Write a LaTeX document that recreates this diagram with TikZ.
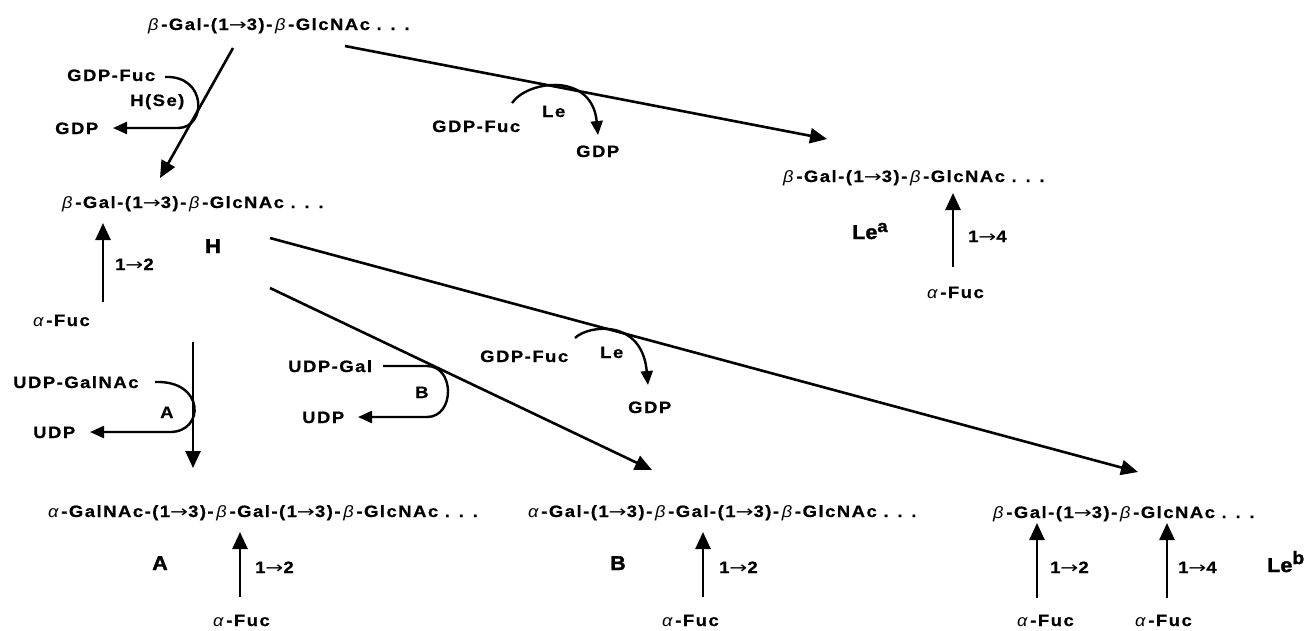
\documentclass[tikz,border=0pt]{standalone}
\usepackage{fontspec}
\setmainfont[LetterSpace=9,FakeStretch=1.12,FakeBold=0.6]{Liberation Sans}
\newfontfamily\heavy[FakeBold=1.6,FakeStretch=1.08]{Liberation Sans}
\newfontfamily\grfont[FakeStretch=1.1]{Liberation Sans}
\newfontfamily\arrfont[FakeStretch=1.3]{DejaVu Sans}
\usetikzlibrary{arrows.meta}
\newcommand{\myb}{{\grfont\mdseries\itshape β}}
\newcommand{\mya}{{\grfont\mdseries\itshape α}}
\newcommand{\myarr}{{\arrfont\mdseries →}}
\tikzset{
  lbl/.style={anchor=base west, inner sep=0pt, font=\bfseries\fontsize{16.5}{18}\selectfont},
  big/.style={anchor=base west, inner sep=0pt, font=\heavy\bfseries\fontsize{20}{22}\selectfont},
  conn/.style={line width=2.6pt, -{Triangle[length=17pt,width=15pt]}},
  curv/.style={line width=2.4pt, -{Triangle[length=14pt,width=12pt]}},
}
\begin{document}
\begin{tikzpicture}[x=1pt,y=-1pt]
\useasboundingbox (0,0) rectangle (1314,630);
\fill[white] (0,0) rectangle (1314,630);
% texts
\node[lbl] (top) at (148,30) {\myb\,-Gal-(1\myarr3)-\,\myb\,-GlcNAc . . .};
\node[lbl] (gdpfucL) at (67,81) {GDP-Fuc};
\node[lbl] (hse) at (130,106) {H(Se)};
\node[lbl] (gdpL) at (55,134) {GDP};
\node[lbl] (hprod) at (62,208) {\myb\,-Gal-(1\myarr3)-\,\myb\,-GlcNAc . . .};
\node[lbl] (h12) at (115,270) {1\myarr2};
\node[big] (H) at (205,253) {H};
\node[lbl] (hfuc) at (33,326) {\mya\,-Fuc};
\node[lbl] (udpgalnac) at (13,388) {UDP-GalNAc};
\node[lbl] (Aenz) at (160,418) {A};
\node[lbl] (udpA) at (33,438) {UDP};
\node[lbl] (udpgal) at (288,372) {UDP-Gal};
\node[lbl] (Benz) at (415,398) {B};
\node[lbl] (udpB) at (302,423) {UDP};
\node[lbl] (gdpfucM) at (480,362) {GDP-Fuc};
\node[lbl] (leM) at (600,358) {Le};
\node[lbl] (gdpM) at (628,413) {GDP};
\node[lbl] (gdpfucU) at (432,132) {GDP-Fuc};
\node[lbl] (leU) at (542,117) {Le};
\node[lbl] (gdpU) at (576,157) {GDP};
\node[lbl] (leaprod) at (783,182) {\myb\,-Gal-(1\myarr3)-\,\myb\,-GlcNAc . . .};
\node[lbl] (le14) at (968,242) {1\myarr4};
\node[big] (Lea) at (852,239) {Le\raisebox{7pt}{\fontsize{17}{18}\selectfont a}};
\node[lbl] (leafuc) at (927,298) {\mya\,-Fuc};
\node[lbl] (aprod) at (48,517) {\mya\,-GalNAc-(1\myarr3)-\,\myb\,-Gal-(1\myarr3)-\,\myb\,-GlcNAc . . .};
\node[big] (Abig) at (152,570) {A};
\node[lbl] (a12) at (255,573) {1\myarr2};
\node[lbl] (afuc) at (213,626) {\mya\,-Fuc};
\node[lbl] (bprod) at (528,517) {\mya\,-Gal-(1\myarr3)-\,\myb\,-Gal-(1\myarr3)-\,\myb\,-GlcNAc . . .};
\node[big] (Bbig) at (610,570) {B};
\node[lbl] (b12) at (719,573) {1\myarr2};
\node[lbl] (bfuc) at (662,626) {\mya\,-Fuc};
\node[lbl] (lebprod) at (993,518) {\myb\,-Gal-(1\myarr3)-\,\myb\,-GlcNAc . . .};
\node[lbl] (lb12) at (1050,573) {1\myarr2};
\node[lbl] (lb14) at (1178,573) {1\myarr4};
\node[big] (Leb) at (1267,572) {Le\raisebox{8pt}{\fontsize{18}{18}\selectfont b}};
\node[lbl] (lbfuc1) at (1017,626) {\mya\,-Fuc};
\node[lbl] (lbfuc2) at (1135,626) {\mya\,-Fuc};
% coordinates
\coordinate (s1) at (233,48);  \coordinate (e1) at (160,178);
\coordinate (s2) at (345,46);  \coordinate (e2) at (827,139);
\coordinate (s3) at (270,238); \coordinate (e3) at (1138,472);
\coordinate (s4) at (270,288); \coordinate (e4) at (652,470);
\coordinate (s5) at (193,342); \coordinate (e5) at (193,468);
% main arrows
\draw[conn] (s1) -- (e1);
\draw[conn] (s2) -- (e2);
\draw[conn] (s3) -- (e3);
\draw[conn] (s4) -- (e4);
\draw[conn] (s5) -- (e5);
% fucose arrows
\coordinate (f1a) at (103,302); \coordinate (f1b) at (103,223);
\coordinate (f2a) at (953,267); \coordinate (f2b) at (953,193);
\coordinate (f3a) at (240,597); \coordinate (f3b) at (240,532);
\coordinate (f4a) at (703,597); \coordinate (f4b) at (703,532);
\coordinate (f5a) at (1037,598); \coordinate (f5b) at (1037,523);
\coordinate (f6a) at (1167,598); \coordinate (f6b) at (1167,523);
\foreach \i in {1,...,6} \draw[conn] (f\i a) -- (f\i b);
% enzyme curves
\coordinate (c1s) at (165,77); \coordinate (c1b) at (178,128); \coordinate (c1e) at (113,128);
\draw[curv] (c1s) .. controls (207,75) and (207,128) .. (c1b) -- (c1e);
\coordinate (c2s) at (512,103); \coordinate (c2e) at (598,135);
\draw[curv] (c2s) .. controls (528,80) and (592,72) .. (c2e);
\coordinate (c3s) at (155,382); \coordinate (c3b) at (170,432); \coordinate (c3e) at (90,432);
\draw[curv] (c3s) .. controls (205,380) and (205,432) .. (c3b) -- (c3e);
\coordinate (c4s) at (383,366); \coordinate (c4m) at (427,366); \coordinate (c4b) at (427,417); \coordinate (c4e) at (358,417);
\draw[curv] (c4s) -- (c4m) .. controls (455,366) and (455,417) .. (c4b) -- (c4e);
\coordinate (c5s) at (575,338); \coordinate (c5e) at (648,385);
\draw[curv] (c5s) .. controls (588,325) and (642,318) .. (c5e);
\end{tikzpicture}
\end{document}
